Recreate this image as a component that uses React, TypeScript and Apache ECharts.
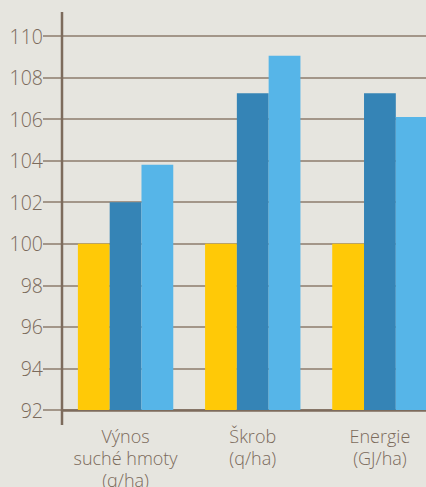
import React, { useEffect, useRef } from "react";
import * as echarts from "echarts";

const categories = ["Výnos\nsuché hmoty\n(q/ha)", "Škrob\n(q/ha)", "Energie\n(GJ/ha)"];
const seriesYellow = [100, 100, 100];
const seriesDark = [102, 107.25, 107.25];
const seriesLight = [103.8, 109.05, 106.1];
const yMin = 92;
const yMax = 110;
const yStep = 2;

const TEXT = "#7b6a5b";
const LINE = "#8c7b6c";

export default function App() {
  const ref = useRef<HTMLDivElement>(null);
  useEffect(() => {
    if (!ref.current) return;
    const chart = echarts.init(ref.current, null, { renderer: "svg" });
    const barBase = { type: "bar", barGap: "0%", barCategoryGap: "25%" };
    chart.setOption({
      animation: false,
      backgroundColor: "#e6e5df",
      grid: {
        left: 62,
        top: 36,
        bottom: 77,
        right: -17.5,
        containLabel: false,
        outerBoundsMode: "none",
      },
      xAxis: {
        type: "category",
        data: categories,
        axisLine: { show: true, lineStyle: { color: "#7d6b5c", width: 2.5 } },
        axisTick: { show: false },
        axisLabel: {
          color: TEXT,
          fontFamily: "Open Sans",
          fontSize: 18,
          fontWeight: 300,
          lineHeight: 22,
          margin: 15,
          interval: 0,
        },
      },
      yAxis: {
        type: "value",
        min: yMin,
        max: yMax,
        interval: yStep,
        axisLine: { show: false },
        axisTick: { show: true, length: 19, lineStyle: { color: LINE, width: 1.5 } },
        splitLine: { show: true, lineStyle: { color: LINE, width: 1.5 } },
        axisLabel: {
          color: TEXT,
          fontFamily: "Open Sans",
          fontSize: 19.5,
          fontWeight: 300,
          margin: 19,
        },
      },
      graphic: [
        {
          type: "line",
          shape: { x1: 62, y1: 12, x2: 62, y2: 425 },
          style: { stroke: "#7d6b5c", lineWidth: 2.5 },
          z: 100,
        },
      ],
      series: [
        { ...barBase, data: seriesYellow, itemStyle: { color: "#ffc907" } },
        { ...barBase, data: seriesDark, itemStyle: { color: "#3584b6" } },
        { ...barBase, data: seriesLight, itemStyle: { color: "#56b5e8" } },
      ],
    });
    return () => chart.dispose();
  }, []);
  return (
    <div
      ref={ref}
      style={{ position: "absolute", left: 0, top: 0, width: 426, height: 487, overflow: "hidden" }}
    />
  );
}
